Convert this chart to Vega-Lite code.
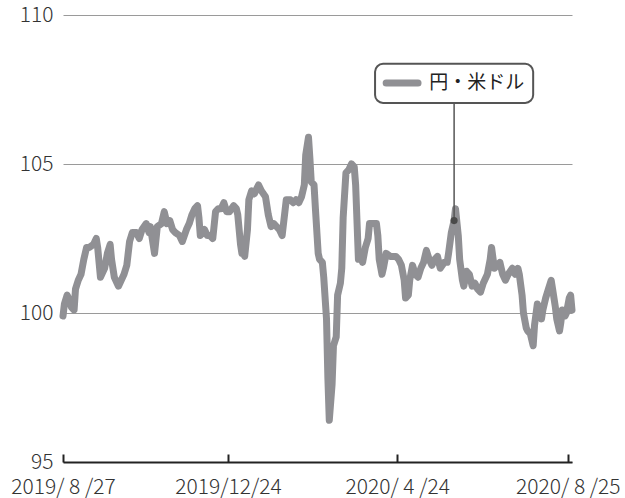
{
  "$schema": "https://vega.github.io/schema/vega-lite/v6.json",
  "width": 509,
  "height": 447,
  "autosize": {"type": "none"},
  "padding": {"left": 63, "top": 15, "right": 53, "bottom": 36},
  "background": "#ffffff",
  "config": {
    "view": {"stroke": null},
    "font": "Noto Sans CJK JP",
    "axisX": {
      "grid": false,
      "domainColor": "#222222",
      "domainWidth": 2,
      "tickColor": "#222222",
      "tickWidth": 2,
      "tickSize": -8,
      "labelFont": "Noto Sans CJK JP",
      "labelFontSize": 21,
      "labelFontWeight": 300,
      "labelColor": "#333333",
      "labelPadding": 22,
      "labelFlush": false,
      "labelOverlap": false
    },
    "axisY": {
      "grid": true,
      "gridColor": "#9a9a9a",
      "gridWidth": 1,
      "domain": false,
      "ticks": false,
      "labelFont": "Noto Sans CJK JP",
      "labelFontSize": 21,
      "labelFontWeight": 300,
      "labelColor": "#333333",
      "labelPadding": 10
    }
  },
  "layer": [
    {
      "data": {
        "values": [
          {"date": "2019-08-27", "value": 99.9},
          {"date": "2019-08-28", "value": 100.3},
          {"date": "2019-08-30", "value": 100.6},
          {"date": "2019-08-31", "value": 100.5},
          {"date": "2019-09-02", "value": 100.2},
          {"date": "2019-09-04", "value": 100.1},
          {"date": "2019-09-05", "value": 100.8},
          {"date": "2019-09-07", "value": 101.1},
          {"date": "2019-09-09", "value": 101.3},
          {"date": "2019-09-11", "value": 101.8},
          {"date": "2019-09-13", "value": 102.2},
          {"date": "2019-09-15", "value": 102.2},
          {"date": "2019-09-18", "value": 102.3},
          {"date": "2019-09-20", "value": 102.5},
          {"date": "2019-09-21", "value": 102.2},
          {"date": "2019-09-23", "value": 101.2},
          {"date": "2019-09-26", "value": 101.5},
          {"date": "2019-09-28", "value": 102.0},
          {"date": "2019-09-30", "value": 102.3},
          {"date": "2019-10-01", "value": 101.8},
          {"date": "2019-10-03", "value": 101.2},
          {"date": "2019-10-06", "value": 100.9},
          {"date": "2019-10-08", "value": 101.1},
          {"date": "2019-10-10", "value": 101.3},
          {"date": "2019-10-12", "value": 101.6},
          {"date": "2019-10-14", "value": 102.4},
          {"date": "2019-10-16", "value": 102.7},
          {"date": "2019-10-19", "value": 102.7},
          {"date": "2019-10-21", "value": 102.5},
          {"date": "2019-10-23", "value": 102.8},
          {"date": "2019-10-26", "value": 103.0},
          {"date": "2019-10-28", "value": 102.7},
          {"date": "2019-10-29", "value": 102.9},
          {"date": "2019-10-31", "value": 102.3},
          {"date": "2019-11-01", "value": 102.0},
          {"date": "2019-11-03", "value": 102.9},
          {"date": "2019-11-06", "value": 103.0},
          {"date": "2019-11-08", "value": 103.4},
          {"date": "2019-11-10", "value": 103.0},
          {"date": "2019-11-12", "value": 103.1},
          {"date": "2019-11-14", "value": 102.8},
          {"date": "2019-11-16", "value": 102.7},
          {"date": "2019-11-19", "value": 102.6},
          {"date": "2019-11-21", "value": 102.4},
          {"date": "2019-11-24", "value": 102.8},
          {"date": "2019-11-26", "value": 103.0},
          {"date": "2019-11-28", "value": 103.3},
          {"date": "2019-11-30", "value": 103.5},
          {"date": "2019-12-02", "value": 103.6},
          {"date": "2019-12-03", "value": 103.2},
          {"date": "2019-12-04", "value": 102.6},
          {"date": "2019-12-07", "value": 102.8},
          {"date": "2019-12-09", "value": 102.6},
          {"date": "2019-12-11", "value": 102.6},
          {"date": "2019-12-13", "value": 102.5},
          {"date": "2019-12-15", "value": 103.4},
          {"date": "2019-12-17", "value": 103.5},
          {"date": "2019-12-19", "value": 103.5},
          {"date": "2019-12-21", "value": 103.7},
          {"date": "2019-12-23", "value": 103.4},
          {"date": "2019-12-25", "value": 103.4},
          {"date": "2019-12-28", "value": 103.6},
          {"date": "2019-12-30", "value": 103.5},
          {"date": "2019-12-31", "value": 103.3},
          {"date": "2020-01-02", "value": 102.3},
          {"date": "2020-01-03", "value": 102.0},
          {"date": "2020-01-04", "value": 102.0},
          {"date": "2020-01-05", "value": 101.9},
          {"date": "2020-01-07", "value": 102.8},
          {"date": "2020-01-08", "value": 103.8},
          {"date": "2020-01-10", "value": 104.1},
          {"date": "2020-01-12", "value": 104.0},
          {"date": "2020-01-14", "value": 104.2},
          {"date": "2020-01-15", "value": 104.3},
          {"date": "2020-01-17", "value": 104.1},
          {"date": "2020-01-20", "value": 103.9},
          {"date": "2020-01-22", "value": 103.3},
          {"date": "2020-01-24", "value": 102.9},
          {"date": "2020-01-26", "value": 103.0},
          {"date": "2020-01-28", "value": 102.9},
          {"date": "2020-01-30", "value": 102.8},
          {"date": "2020-02-01", "value": 102.6},
          {"date": "2020-02-03", "value": 103.4},
          {"date": "2020-02-04", "value": 103.8},
          {"date": "2020-02-07", "value": 103.8},
          {"date": "2020-02-09", "value": 103.7},
          {"date": "2020-02-11", "value": 103.8},
          {"date": "2020-02-13", "value": 103.7},
          {"date": "2020-02-15", "value": 103.9},
          {"date": "2020-02-17", "value": 104.3},
          {"date": "2020-02-18", "value": 105.3},
          {"date": "2020-02-20", "value": 105.9},
          {"date": "2020-02-21", "value": 105.2},
          {"date": "2020-02-22", "value": 104.4},
          {"date": "2020-02-24", "value": 104.3},
          {"date": "2020-02-25", "value": 103.5},
          {"date": "2020-02-27", "value": 102.0},
          {"date": "2020-02-28", "value": 101.8},
          {"date": "2020-03-01", "value": 101.7},
          {"date": "2020-03-02", "value": 101.2},
          {"date": "2020-03-04", "value": 99.8},
          {"date": "2020-03-05", "value": 97.8},
          {"date": "2020-03-06", "value": 96.4},
          {"date": "2020-03-08", "value": 97.6},
          {"date": "2020-03-09", "value": 98.9},
          {"date": "2020-03-11", "value": 99.2},
          {"date": "2020-03-12", "value": 100.6},
          {"date": "2020-03-14", "value": 101.0},
          {"date": "2020-03-15", "value": 101.5},
          {"date": "2020-03-16", "value": 103.2},
          {"date": "2020-03-18", "value": 104.7},
          {"date": "2020-03-20", "value": 104.8},
          {"date": "2020-03-22", "value": 105.0},
          {"date": "2020-03-24", "value": 104.9},
          {"date": "2020-03-25", "value": 104.3},
          {"date": "2020-03-27", "value": 101.8},
          {"date": "2020-03-29", "value": 101.9},
          {"date": "2020-03-30", "value": 101.7},
          {"date": "2020-04-01", "value": 102.2},
          {"date": "2020-04-03", "value": 102.5},
          {"date": "2020-04-04", "value": 103.0},
          {"date": "2020-04-06", "value": 103.0},
          {"date": "2020-04-09", "value": 103.0},
          {"date": "2020-04-10", "value": 102.6},
          {"date": "2020-04-11", "value": 101.8},
          {"date": "2020-04-13", "value": 101.3},
          {"date": "2020-04-14", "value": 101.5},
          {"date": "2020-04-16", "value": 102.0},
          {"date": "2020-04-19", "value": 101.9},
          {"date": "2020-04-21", "value": 101.9},
          {"date": "2020-04-23", "value": 101.9},
          {"date": "2020-04-25", "value": 101.8},
          {"date": "2020-04-27", "value": 101.6},
          {"date": "2020-04-29", "value": 101.1},
          {"date": "2020-04-30", "value": 100.5},
          {"date": "2020-05-02", "value": 100.6},
          {"date": "2020-05-03", "value": 101.1},
          {"date": "2020-05-05", "value": 101.6},
          {"date": "2020-05-07", "value": 101.3},
          {"date": "2020-05-09", "value": 101.2},
          {"date": "2020-05-11", "value": 101.5},
          {"date": "2020-05-13", "value": 101.7},
          {"date": "2020-05-15", "value": 102.1},
          {"date": "2020-05-17", "value": 101.8},
          {"date": "2020-05-19", "value": 101.6},
          {"date": "2020-05-21", "value": 101.8},
          {"date": "2020-05-23", "value": 101.9},
          {"date": "2020-05-25", "value": 101.5},
          {"date": "2020-05-28", "value": 101.7},
          {"date": "2020-05-30", "value": 101.7},
          {"date": "2020-05-31", "value": 102.0},
          {"date": "2020-06-02", "value": 102.7},
          {"date": "2020-06-04", "value": 103.1},
          {"date": "2020-06-05", "value": 103.5},
          {"date": "2020-06-07", "value": 102.6},
          {"date": "2020-06-08", "value": 101.8},
          {"date": "2020-06-10", "value": 101.1},
          {"date": "2020-06-11", "value": 100.9},
          {"date": "2020-06-13", "value": 101.4},
          {"date": "2020-06-15", "value": 101.3},
          {"date": "2020-06-17", "value": 100.9},
          {"date": "2020-06-19", "value": 101.0},
          {"date": "2020-06-21", "value": 100.8},
          {"date": "2020-06-23", "value": 100.7},
          {"date": "2020-06-25", "value": 101.0},
          {"date": "2020-06-28", "value": 101.3},
          {"date": "2020-06-30", "value": 101.8},
          {"date": "2020-07-01", "value": 102.2},
          {"date": "2020-07-03", "value": 101.5},
          {"date": "2020-07-05", "value": 101.6},
          {"date": "2020-07-07", "value": 101.7},
          {"date": "2020-07-09", "value": 101.3},
          {"date": "2020-07-11", "value": 101.1},
          {"date": "2020-07-13", "value": 101.3},
          {"date": "2020-07-16", "value": 101.5},
          {"date": "2020-07-18", "value": 101.3},
          {"date": "2020-07-20", "value": 101.5},
          {"date": "2020-07-21", "value": 101.3},
          {"date": "2020-07-23", "value": 100.6},
          {"date": "2020-07-24", "value": 100.0},
          {"date": "2020-07-26", "value": 99.5},
          {"date": "2020-07-27", "value": 99.4},
          {"date": "2020-07-29", "value": 99.3},
          {"date": "2020-07-31", "value": 98.9},
          {"date": "2020-08-01", "value": 99.6},
          {"date": "2020-08-03", "value": 100.3},
          {"date": "2020-08-04", "value": 100.2},
          {"date": "2020-08-06", "value": 99.8},
          {"date": "2020-08-07", "value": 100.1},
          {"date": "2020-08-09", "value": 100.5},
          {"date": "2020-08-11", "value": 100.8},
          {"date": "2020-08-13", "value": 101.1},
          {"date": "2020-08-14", "value": 100.8},
          {"date": "2020-08-16", "value": 100.2},
          {"date": "2020-08-17", "value": 99.8},
          {"date": "2020-08-19", "value": 99.4},
          {"date": "2020-08-20", "value": 99.7},
          {"date": "2020-08-21", "value": 100.1},
          {"date": "2020-08-23", "value": 99.9},
          {"date": "2020-08-24", "value": 100.0},
          {"date": "2020-08-26", "value": 100.5},
          {"date": "2020-08-27", "value": 100.6},
          {"date": "2020-08-28", "value": 100.1}
        ],
        "format": {"parse": {"date": "date:'%Y-%m-%d'"}}
      },
      "mark": {"type": "line", "color": "#909094", "strokeWidth": 7, "strokeJoin": "round", "strokeCap": "round", "clip": false},
      "encoding": {
        "x": {
          "field": "date",
          "type": "temporal",
          "title": null,
          "scale": {"domain": [{"year": 2019, "month": 8, "date": 27}, {"year": 2020, "month": 8, "date": 28}], "nice": false},
          "axis": {
            "values": [
              {"year": 2019, "month": 8, "date": 27},
              {"year": 2019, "month": 12, "date": 24},
              {"year": 2020, "month": 4, "date": 24},
              {"year": 2020, "month": 8, "date": 25}
            ],
            "labelExpr": "timeFormat(datum.value, '%Y/') + (month(datum.value) + 1 < 10 ? ' ' + (month(datum.value) + 1) + ' ' : '' + (month(datum.value) + 1)) + timeFormat(datum.value, '/%d')"
          }
        },
        "y": {
          "field": "value",
          "type": "quantitative",
          "title": null,
          "scale": {"domain": [95, 110], "nice": false, "zero": false},
          "axis": {"values": [95, 100, 105, 110]}
        }
      }
    },
    {
      "data": {
        "values": [{"date": "2020-06-04", "value": 103.1, "value2": 107.05}],
        "format": {"parse": {"date": "date:'%Y-%m-%d'"}}
      },
      "mark": {"type": "rule", "color": "#555555", "strokeWidth": 1.5},
      "encoding": {
        "x": {"field": "date", "type": "temporal", "title": null},
        "y": {"field": "value", "type": "quantitative", "title": null},
        "y2": {"field": "value2"}
      }
    },
    {
      "data": {
        "values": [{"date": "2020-06-04", "value": 103.1}],
        "format": {"parse": {"date": "date:'%Y-%m-%d'"}}
      },
      "mark": {"type": "point", "filled": true, "color": "#4a4a4a", "size": 50, "opacity": 1},
      "encoding": {
        "x": {"field": "date", "type": "temporal", "title": null},
        "y": {"field": "value", "type": "quantitative", "title": null}
      }
    },
    {
      "data": {
        "values": [{"date": "2020-04-08", "date2": "2020-07-31", "value": 107.05, "value2": 108.36}],
        "format": {"parse": {"date": "date:'%Y-%m-%d'", "date2": "date:'%Y-%m-%d'"}}
      },
      "mark": {"type": "rect", "fill": "#ffffff", "stroke": "#555555", "strokeWidth": 2, "cornerRadius": 8},
      "encoding": {
        "x": {"field": "date", "type": "temporal", "title": null},
        "x2": {"field": "date2"},
        "y": {"field": "value", "type": "quantitative", "title": null},
        "y2": {"field": "value2"}
      }
    },
    {
      "data": {
        "values": [{"date": "2020-04-16", "date2": "2020-05-09", "value": 107.72}],
        "format": {"parse": {"date": "date:'%Y-%m-%d'", "date2": "date:'%Y-%m-%d'"}}
      },
      "mark": {"type": "rule", "color": "#909094", "strokeWidth": 7, "strokeCap": "round"},
      "encoding": {
        "x": {"field": "date", "type": "temporal", "title": null},
        "x2": {"field": "date2"},
        "y": {"field": "value", "type": "quantitative", "title": null}
      }
    },
    {
      "data": {
        "values": [{"date": "2020-05-17", "value": 107.72, "label": "円・米ドル"}],
        "format": {"parse": {"date": "date:'%Y-%m-%d'"}}
      },
      "mark": {"type": "text", "align": "left", "baseline": "middle", "font": "Noto Sans CJK JP", "fontSize": 19, "color": "#222222"},
      "encoding": {
        "x": {"field": "date", "type": "temporal", "title": null},
        "y": {"field": "value", "type": "quantitative", "title": null},
        "text": {"field": "label"}
      }
    }
  ]
}
